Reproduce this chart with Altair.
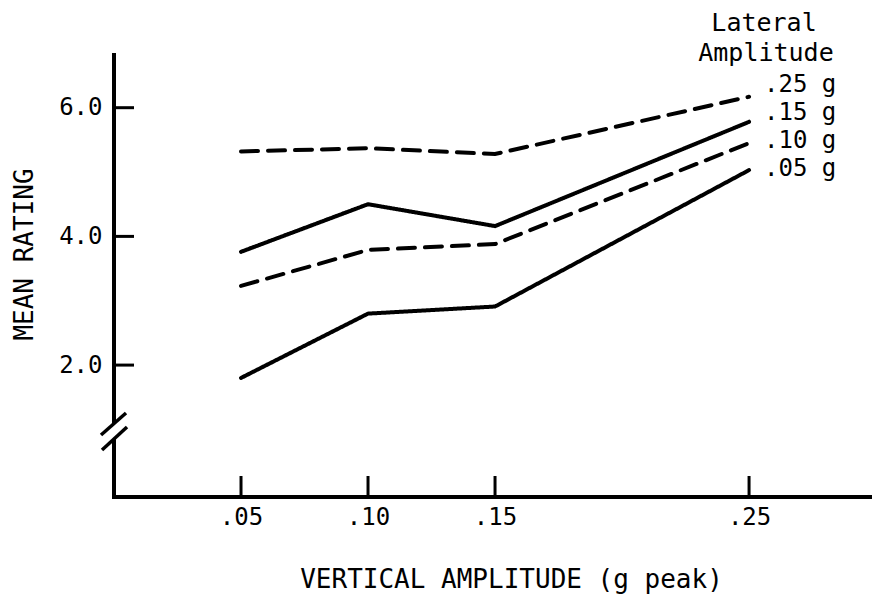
import altair as alt
import pandas as pd

# ---- data ----
vertical = [0.05, 0.10, 0.15, 0.25]
lat_05 = [1.80, 2.80, 2.91, 5.03]
lat_10 = [3.23, 3.79, 3.88, 5.45]
lat_15 = [3.76, 4.50, 4.16, 5.78]
lat_25 = [5.32, 5.37, 5.28, 6.17]
series_names = [".05 g", ".10 g", ".15 g", ".25 g"]
x_tick_values = [0.05, 0.10, 0.15, 0.25]
y_tick_values = [2.0, 4.0, 6.0]

rows = []
for name, vals in zip(series_names, [lat_05, lat_10, lat_15, lat_25]):
    for xv, yv in zip(vertical, vals):
        rows.append({"x": xv, "y": yv, "series": name})
df = pd.DataFrame(rows)
ends = df[df["x"] == max(vertical)]

W, H = 758, 444
FONT = "DejaVu Sans Mono"

xs = alt.Scale(domain=[0, 0.2984], nice=False, zero=False)
ys = alt.Scale(domain=[-0.05, 6.85], nice=False, zero=False)

x_axis = alt.Axis(
    values=x_tick_values, domain=False, ticks=False, grid=False,
    labelExpr="replace(format(datum.value, '.2f'), '0.', '.')",
    labelFont=FONT, labelFontSize=24, labelColor="black", labelPadding=8,
    title="VERTICAL AMPLITUDE (g peak)", titleFont=FONT, titleFontSize=26,
    titleFontWeight="normal", titleColor="black", titleX=397, titleY=82,
    titleBaseline="middle", titleAlign="center",
)
y_axis = alt.Axis(
    values=y_tick_values, format=".1f", domain=False, ticks=False, tickSize=0,
    grid=False, labelFont=FONT, labelFontSize=24, labelColor="black",
    labelPadding=12,
    title="MEAN RATING", titleFont=FONT, titleFontSize=26,
    titleFontWeight="normal", titleColor="black", titleX=-90, titleY=201,
    titleAngle=270, titleBaseline="middle", titleAlign="center",
)

X = alt.X("x:Q", scale=xs, axis=x_axis)
Y = alt.Y("y:Q", scale=ys, axis=y_axis)

lines = alt.Chart(df).mark_line(color="black", strokeWidth=4, strokeCap="round").encode(
    x=X, y=Y,
    detail="series:N",
    strokeDash=alt.StrokeDash(
        "series:N",
        scale=alt.Scale(domain=series_names, range=[[1, 0], [17, 10], [1, 0], [17, 10]]),
        legend=None,
    ),
)

# end labels, each nudged slightly as in the reference
label_dy = {".05 g": 6, ".10 g": 5, ".15 g": -2, ".25 g": -5}
label_layers = []
for name in series_names:
    label_layers.append(
        alt.Chart(ends).transform_filter(alt.datum.series == name).mark_text(
            align="left", baseline="alphabetic", dx=15, dy=label_dy[name],
            font=FONT, fontSize=24, color="black",
        ).encode(x=X, y=Y, text="series:N")
    )

one = pd.DataFrame({"a": [0]})

header = alt.layer(
    alt.Chart(one).mark_text(align="center", baseline="alphabetic", font=FONT, fontSize=25, color="black")
    .encode(x=alt.value(650), y=alt.value(-22), text=alt.value("Lateral")),
    alt.Chart(one).mark_text(align="center", baseline="alphabetic", font=FONT, fontSize=25, color="black")
    .encode(x=alt.value(652), y=alt.value(8), text=alt.value("Amplitude")),
)

x_ticks = alt.Chart(pd.DataFrame({"x": x_tick_values})).mark_rule(color="black", strokeWidth=3).encode(
    x=X, y=alt.value(H), y2=alt.value(H - 21)
)
y_ticks = alt.Chart(pd.DataFrame({"y": y_tick_values})).mark_rule(color="black", strokeWidth=3).encode(
    y=Y, x=alt.value(0), x2=alt.value(20)
)

axis_style = dict(color="black", strokeWidth=4)
x_line = alt.Chart(one).mark_rule(**axis_style).encode(
    x=alt.value(-2), x2=alt.value(W + 10), y=alt.value(H)
)
y_line_top = alt.Chart(one).mark_rule(**axis_style).encode(
    x=alt.value(0), y=alt.value(0), y2=alt.value(370)
)
y_line_bottom = alt.Chart(one).mark_rule(**axis_style).encode(
    x=alt.value(0), y=alt.value(386), y2=alt.value(H + 2)
)
break1 = alt.Chart(one).mark_rule(color="black", strokeWidth=3.5).encode(
    x=alt.value(-13), x2=alt.value(12), y=alt.value(382), y2=alt.value(360)
)
break2 = alt.Chart(one).mark_rule(color="black", strokeWidth=3.5).encode(
    x=alt.value(-12), x2=alt.value(13), y=alt.value(397), y2=alt.value(374)
)

chart = alt.layer(
    lines, *label_layers, header, x_ticks, y_ticks, x_line, y_line_top, y_line_bottom, break1, break2
).properties(
    width=W, height=H,
    autosize=alt.AutoSizeParams(type="none"),
    padding={"left": 106, "top": 45, "right": 0, "bottom": 98},
    background="white",
).configure_view(stroke=None)

chart.save("out.html", embed_options={"renderer": "svg", "actions": False})
